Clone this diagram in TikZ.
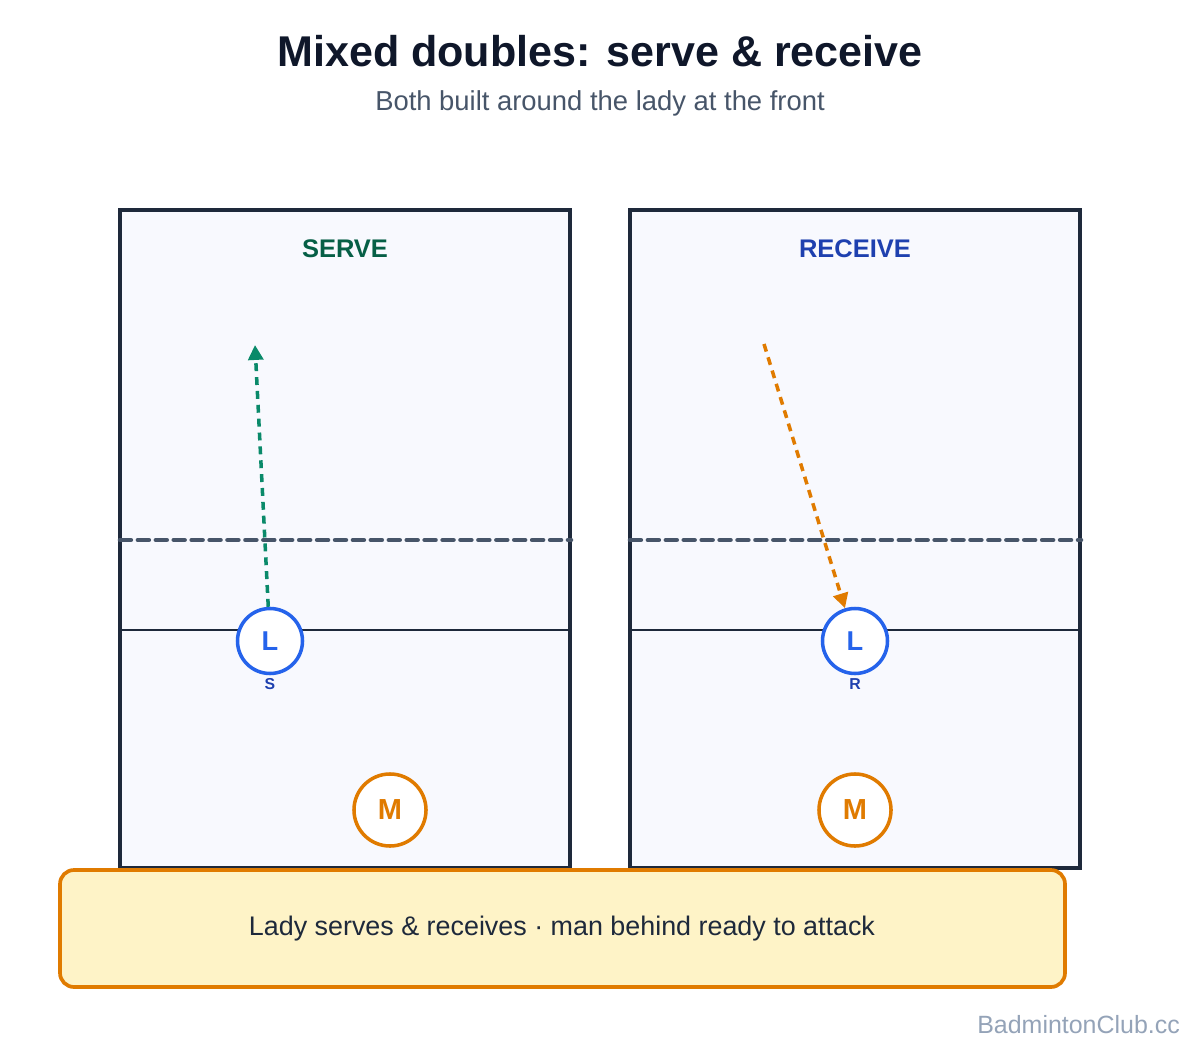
\documentclass[tikz,border=0pt]{standalone}
\usepackage{fontspec}
\setmainfont{Liberation Sans}
\usetikzlibrary{arrows.meta}

\definecolor{ink}{HTML}{0F172A}
\definecolor{slate}{HTML}{475569}
\definecolor{courtline}{HTML}{1E293B}
\definecolor{courtfill}{HTML}{F8F9FE}
\definecolor{netgrey}{HTML}{475569}
\definecolor{ladyblue}{HTML}{2563EB}
\definecolor{darkblue}{HTML}{1E40AF}
\definecolor{darkgreen}{HTML}{065F46}
\definecolor{servegreen}{HTML}{0A8A6A}
\definecolor{manorange}{HTML}{E07B00}
\definecolor{notefill}{HTML}{FEF3C7}
\definecolor{mark}{HTML}{94A3B8}

\tikzset{
  court/.style={draw=courtline, fill=courtfill, line width=1.9pt},
  net/.style={draw=netgrey, line width=2.6pt, line cap=round,
    dash pattern=on 6.2pt off 4pt},
  lady/.style={circle, draw=ladyblue, fill=white, line width=2pt,
    minimum size=37pt, inner sep=0pt, text=ladyblue,
    font=\bfseries\fontsize{15.5}{15.5}\selectfont},
  man/.style={circle, draw=manorange, fill=white, line width=2pt,
    minimum size=41pt, inner sep=0pt, text=manorange,
    font=\bfseries\fontsize{16.5}{16.5}\selectfont},
  shot/.style={line width=2pt, dash pattern=on 4.5pt off 3.4pt,
    -{Triangle[length=8.5pt,width=8.5pt]}},
  tag/.style={text=darkblue, font=\bfseries\fontsize{9}{9}\selectfont}
}

\begin{document}
\begin{tikzpicture}[x=0.02cm, y=-0.02cm]
\useasboundingbox[fill=white] (0,0) rectangle (1200,1050);

% heading
\node[text=ink, font=\bfseries\fontsize{24.5}{24.5}\selectfont] (title) at (600,51)
  {Mixed doubles: serve \& receive};
\node[text=slate, font=\fontsize{15.6}{15.6}\selectfont] (subtitle) at (600,103)
  {Both built around the lady at the front};

% courts
\draw[court] (120,210) rectangle (570,868);
\draw[court] (630,210) rectangle (1080,868);
\draw[courtline, line width=0.9pt] (120,630) -- (570,630);
\draw[courtline, line width=0.9pt] (630,630) -- (1080,630);
\draw[net] (120,540) -- (571,540);
\draw[net] (630,540) -- (1081,540);

\node[text=darkgreen, font=\bfseries\fontsize{14.5}{14.5}\selectfont] (serve) at (345,249) {SERVE};
\node[text=darkblue, font=\bfseries\fontsize{14.5}{14.5}\selectfont] (receive) at (855,249) {RECEIVE};

% players
\node[lady] (lserve) at (270,641) {L};
\node[tag] (stag) at (270,684) {S};
\node[lady] (lrecv) at (855,641) {L};
\node[tag] (rtag) at (855,684) {R};
\node[man] (mserve) at (390,810) {M};
\node[man] (mrecv) at (855,810) {M};

% shots
\coordinate (servetarget) at (255,345);
\coordinate (recvfrom) at (764,344);
\draw[shot, servegreen] (lserve) -- (servetarget);
\draw[shot, manorange] (recvfrom) -- (lrecv);

% note
\draw[draw=manorange, fill=notefill, line width=2.1pt, rounded corners=8pt]
  (60,870) rectangle (1065,987);
\node[text=courtline, font=\fontsize{15.3}{15.3}\selectfont] (note) at (562,929)
  {Lady serves \& receives · man behind ready to attack};

\node[anchor=east, text=mark, font=\fontsize{14.2}{14.2}\selectfont] (site) at (1186,1025)
  {BadmintonClub.cc};
\end{tikzpicture}
\end{document}
